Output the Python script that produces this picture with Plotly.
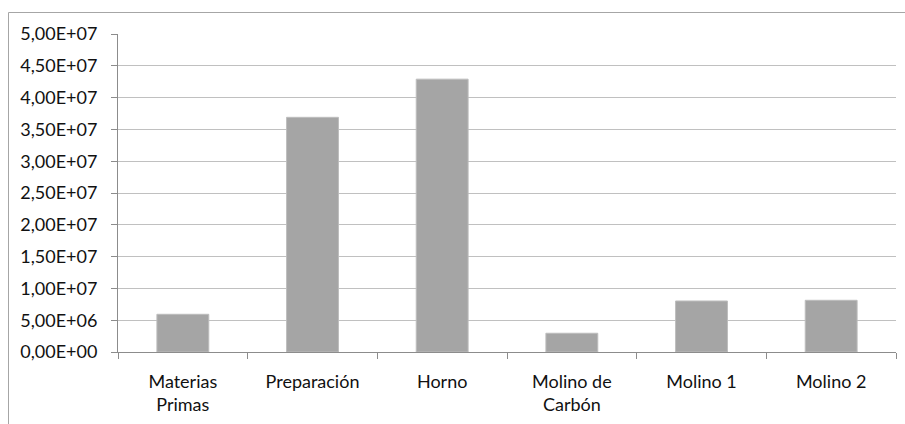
import plotly.graph_objects as go

# Process stages and their values
categories = ["Materias<br>Primas", "Preparación", "Horno", "Molino de<br>Carbón", "Molino 1", "Molino 2"]
values = [5.93e6, 3.69e7, 4.29e7, 2.95e6, 8.02e6, 8.13e6]

# Y axis ticks with comma decimal scientific labels
y_tick_values = [0, 5e6, 1e7, 1.5e7, 2e7, 2.5e7, 3e7, 3.5e7, 4e7, 4.5e7, 5e7]
y_tick_labels = ["0,00E+00", "5,00E+06", "1,00E+07", "1,50E+07", "2,00E+07", "2,50E+07",
                 "3,00E+07", "3,50E+07", "4,00E+07", "4,50E+07", "5,00E+07"]

W, H = 905, 424
ml, mr, mt, mb = 118, 9, 34, 72
pw, ph = W - ml - mr, H - mt - mb

fig = go.Figure(
    go.Bar(
        x=categories,
        y=values,
        marker=dict(color="#a5a5a5", line=dict(color="#bdbdbd", width=1)),
        hoverinfo="x+y",
    )
)

font = dict(family="Lato, Calibri, Carlito, sans-serif", size=18, color="#111111")

fig.update_layout(
    width=W,
    height=H,
    margin=dict(l=ml, r=mr, t=mt, b=mb),
    paper_bgcolor="white",
    plot_bgcolor="white",
    bargap=0.6,
    showlegend=False,
    font=font,
    xaxis=dict(
        type="category",
        showline=True,
        linecolor="#8c8c8c",
        linewidth=1,
        ticks="outside",
        tickson="boundaries",
        ticklen=6,
        tickcolor="#8c8c8c",
        showgrid=False,
        zeroline=False,
        tickfont=font,
        ticklabelstandoff=13,
    ),
    yaxis=dict(
        range=[0, 5e7],
        tickvals=y_tick_values,
        ticktext=y_tick_labels,
        showline=True,
        linecolor="#8c8c8c",
        linewidth=1,
        ticks="outside",
        ticklen=6,
        tickcolor="#8c8c8c",
        showgrid=True,
        gridcolor="#c0c0c0",
        gridwidth=1,
        zeroline=False,
        tickfont=font,
        ticklabelstandoff=10,
    ),
    shapes=[
        # Chart area frame
        dict(
            type="rect",
            xref="paper",
            yref="paper",
            x0=(8.5 - ml) / pw,
            x1=(W + 5 - ml) / pw,
            y0=-(mb + 10) / ph,
            y1=(ph + mt - 12.5) / ph,
            line=dict(color="#a6a6a6", width=1),
            fillcolor="rgba(0,0,0,0)",
            layer="below",
        )
    ],
)

fig.write_html("out.html")
